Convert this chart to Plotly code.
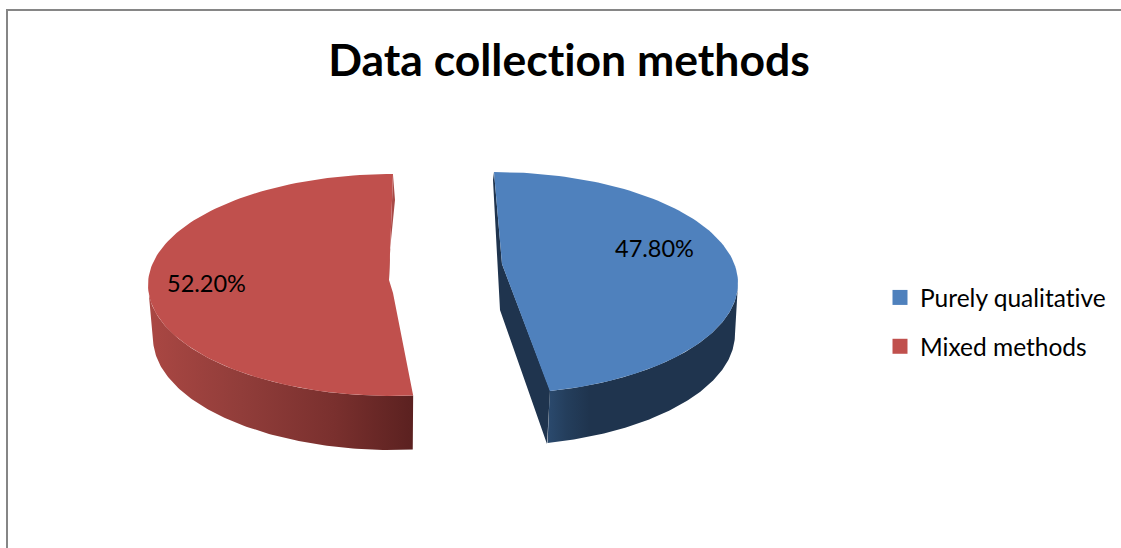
import numpy as np
import plotly.graph_objects as go

# ---- data ----
categories = ["Purely qualitative", "Mixed methods"]
values = [47.8, 52.2]
colors = ["#4F81BD", "#C0504D"]
title_text = "Data collection methods"

# ---- drawing constants (pixel-like plot space) ----
W, H = 1121, 548
FONT = "Lato"
PERSPECTIVE_SHIFT = [-5.3, 3.2]  # degrees: apparent boundary shift of exploded slices


def arc(cx, cy, rx, ry, a0, a1, n=120):
    t = np.radians(np.linspace(a0, a1, n))
    return cx + rx * np.sin(t), cy - ry * np.cos(t)


boundary = 360 * values[0] / sum(values)
blue_end = boundary + PERSPECTIVE_SHIFT[0]
red_start = boundary + PERSPECTIVE_SHIFT[1]

fig = go.Figure()


def poly(x, y, color=None, gradient=None):
    kw = dict(fillgradient=gradient) if gradient else dict(fillcolor=color)
    fig.add_trace(go.Scatter(x=list(x), y=list(y), mode="lines", fill="toself",
                             line=dict(width=0), showlegend=False, hoverinfo="skip", **kw))


# ---- red slice ----
rt = (393, 285, 245, 111)
rb = (393, 338, 240, 112)
bx, by = arc(*rb, red_start, 270)
tx, ty = arc(*rt, 270, red_start)
poly(np.r_[bx, tx], np.r_[by, ty],
     gradient=dict(type="horizontal",
                   colorscale=[[0, "#AA4743"], [0.35, "#913D3A"], [0.7, "#7A302E"], [1, "#5B2120"]]))
poly([393, 395, 388, 389], [175, 200, 270, 280], color="#A84A47")
x, y = arc(*rt, red_start, 360)
poly(np.r_[x, 389, 393], np.r_[y, 280, 293], color=colors[1])

# ---- blue slice ----
bt = (494, 283, 244, 111)
bb = (492, 334, 243, 112)
bx, by = arc(*bb, blue_end, 90)
tx, ty = arc(*bt, 90, blue_end)
poly(np.r_[bx, tx], np.r_[by, ty],
     gradient=dict(type="horizontal",
                   colorscale=[[0, "#2B4A6E"], [0.1, "#243E5C"], [0.22, "#1F344E"], [1, "#1F344E"]]))
poly([494, 502, 550, 547, 500, 493], [172, 264, 390, 444, 310, 180], color="#1F344E")
x, y = arc(*bt, 0, blue_end)
poly(np.r_[x, 502], np.r_[y, 264], color=colors[0])

# ---- legend entries ----
for i, (name, col) in enumerate(zip(categories, colors)):
    fig.add_trace(go.Scatter(x=[None], y=[None], mode="markers", name=name, legendgroup=name,
                             marker=dict(symbol="square", size=15, color=col)))

# ---- data labels ----
label_pos = [(654, 248), (206, 283)]
for v, (lx, ly) in zip(values, label_pos):
    fig.add_annotation(x=lx, y=ly, text=f"{v:.2f}%", showarrow=False,
                       font=dict(family=FONT, size=23.5, color="#000000"))

fig.update_layout(
    width=W, height=H, margin=dict(l=0, r=0, t=0, b=0),
    paper_bgcolor="white", plot_bgcolor="white",
    title=dict(text=f"<b>{title_text}</b>", x=569 / W, y=1 - 60 / H, xanchor="center", yanchor="middle",
               font=dict(family=FONT, size=44.5, color="#000000")),
    xaxis=dict(range=[0, W], visible=False, fixedrange=True),
    yaxis=dict(range=[H, 0], visible=False, fixedrange=True),
    legend=dict(x=880 / W, y=1 - 322 / H, xanchor="left", yanchor="middle",
                traceorder="grouped", tracegroupgap=14,
                font=dict(family=FONT, size=24.5, color="#000000"), bgcolor="rgba(0,0,0,0)"),
    shapes=[
        dict(type="line", xref="x", yref="y", x0=7, x1=7, y0=H, y1=10, line=dict(color="#868686", width=2)),
        dict(type="line", xref="x", yref="y", x0=6, x1=W, y0=10, y1=10, line=dict(color="#868686", width=2)),
    ],
)

fig.write_html(
    "out.html", config=dict(displayModeBar=False),
    post_script="document.body.style.margin='0';document.body.style.overflow='hidden';"
                "var s=document.createElement('style');"
                "s.textContent='svg text{font-variant-ligatures:none !important;"
                "font-feature-settings:\"liga\" 0,\"clig\" 0,\"dlig\" 0 !important;}';"
                "document.head.appendChild(s);",
)
